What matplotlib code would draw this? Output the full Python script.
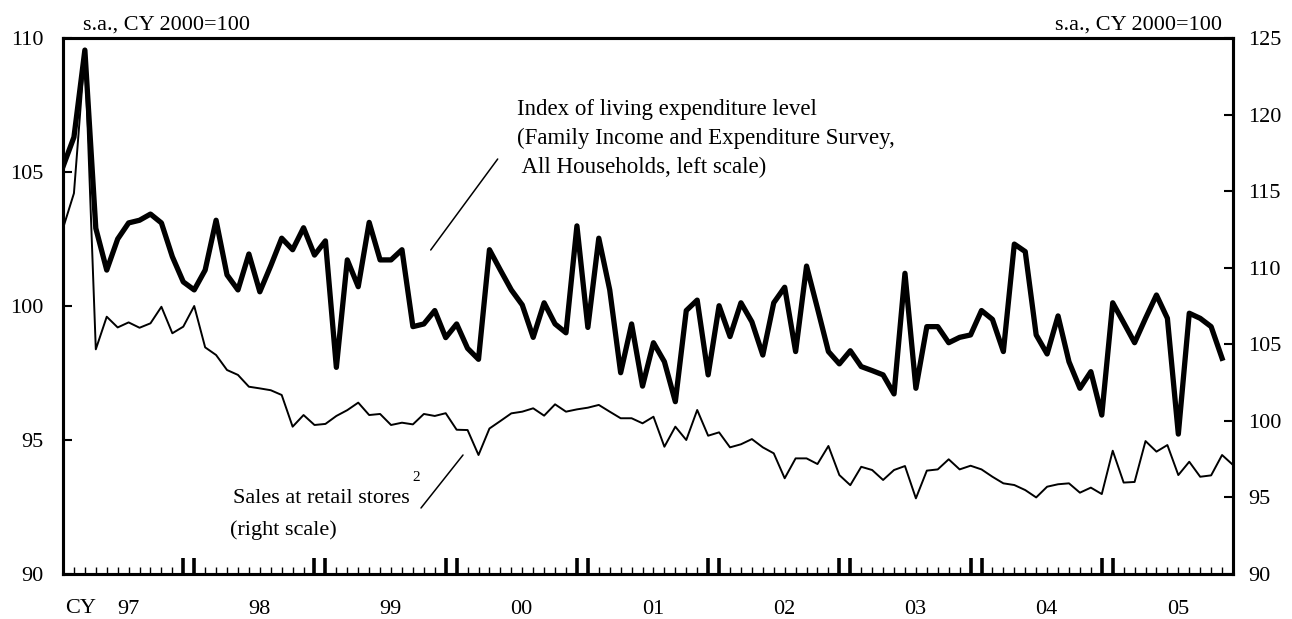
import numpy as np
import matplotlib.pyplot as plt
from matplotlib import transforms

plt.rcParams['font.family'] = ['Liberation Serif', 'DejaVu Serif']

# monthly, Jan 1997 onwards
living = [105.2, 106.3, 109.55, 102.9, 101.34, 102.5, 103.1, 103.2, 103.43, 103.1, 101.84, 100.9,
          100.6, 101.34, 103.2, 101.16, 100.6, 101.94, 100.53, 101.5, 102.53, 102.1, 102.92, 101.9,
          102.43, 97.71, 101.72, 100.72, 103.12, 101.72, 101.72, 102.1, 99.23, 99.33, 99.83, 98.82,
          99.33, 98.42, 98.01, 102.1, 101.34, 100.6, 100.04, 98.83, 100.12, 99.33, 99.0, 102.99,
          99.2, 102.53, 100.6, 97.51, 99.33, 97.01, 98.63, 97.92, 96.43, 99.83, 100.22, 97.43,
          100.01, 98.86, 100.12, 99.41, 98.17, 100.12, 100.7, 98.3, 101.49, 99.91, 98.3, 97.84,
          98.33, 97.74, 97.59, 97.43, 96.72, 101.22, 96.93, 99.23, 99.23, 98.63, 98.83, 98.92,
          99.83, 99.5, 98.3, 102.31, 102.03, 98.92, 98.21, 99.63, 97.92, 96.93, 97.55, 95.93,
          100.12, 99.38, 98.63, 99.54, 100.41, 99.54, 95.22, 99.73, 99.54, 99.23, 98.05]

retail = [112.57, 114.86, 124.1, 104.67, 106.8, 106.1, 106.43, 106.08, 106.37, 107.45, 105.72, 106.15,
          107.5, 104.8, 104.3, 103.32, 103.0, 102.23, 102.12, 102.0, 101.69, 99.62, 100.38, 99.73,
          99.8, 100.32, 100.7, 101.19, 100.38, 100.45, 99.73, 99.88, 99.77, 100.45, 100.32, 100.5,
          99.42, 99.4, 97.77, 99.5, 99.99, 100.49, 100.6, 100.82, 100.34, 101.08, 100.6, 100.75,
          100.86, 101.04, 100.6, 100.17, 100.17, 99.84, 100.27, 98.31, 99.62, 98.75, 100.71, 99.03,
          99.25, 98.27, 98.47, 98.81, 98.27, 97.88, 96.25, 97.55, 97.55, 97.18, 98.36, 96.46,
          95.8, 97.0, 96.79, 96.14, 96.79, 97.05, 94.94, 96.75, 96.83, 97.49, 96.83, 97.07,
          96.83, 96.35, 95.92, 95.81, 95.48, 95.0, 95.7, 95.86, 95.92, 95.31, 95.64, 95.22,
          98.05, 95.97, 96.01, 98.68, 97.99, 98.42, 96.46, 97.33, 96.35, 96.44, 97.77, 97.12]

years = ['97', '98', '99', '00', '01', '02', '03', '04', '05']

W, H = 1292, 619
fs = 16
fig = plt.figure(figsize=(W / 100, H / 100), dpi=100)
ax = fig.add_axes([63 / W, 1 - 574 / H, (1233 - 63) / W, (574 - 38) / H])
ax2 = ax.twinx()

months = np.arange(len(retail))
ax.plot(months[:len(living)], living, color='black', lw=3.8)
ax2.plot(months, retail, color='black', lw=1.4)

ax.set_xlim(0, len(retail) - 1)
ax.set_ylim(90, 110)
ax2.set_ylim(90, 125)
ax.set_yticks([90, 95, 100, 105, 110])
ax2.set_yticks([90, 95, 100, 105, 110, 115, 120, 125])

for a in (ax, ax2):
    for s in a.spines.values():
        s.set_linewidth(2.2)

ax.tick_params(axis='y', direction='in', length=6.5, width=1.5, labelsize=fs, pad=14)
ax2.tick_params(axis='y', direction='in', length=6.5, width=1.5, labelsize=fs, pad=11)

# double ticks at year boundaries, small ticks for other months
bounds = [m for m in months[1:-1] if m % 12 in (11, 0)]
others = [m for m in months[1:-1] if m % 12 not in (11, 0)]
ax.set_xticks(bounds)
ax.set_xticks(others, minor=True)
ax.tick_params(axis='x', which='major', direction='in', length=11.5, width=2.6, labelbottom=False)
ax.tick_params(axis='x', which='minor', direction='in', length=5, width=1.0, labelbottom=False)

trans = transforms.blended_transform_factory(ax.transData, fig.transFigure)
for k, y in enumerate(years):
    ax.text(12 * k + 5.95, 1 - 614 / H, y, transform=trans, ha='center', va='baseline', fontsize=fs)
fig.text(65 / W, 1 - 613 / H, 'CY', ha='left', va='baseline', fontsize=fs)

fig.text(83 / W, 1 - 29.5 / H, 's.a., CY 2000=100', ha='left', va='baseline', fontsize=fs)
fig.text(1222 / W, 1 - 29.5 / H, 's.a., CY 2000=100', ha='right', va='baseline', fontsize=fs)

fs_note = 16.5
fig.text(517 / W, 1 - 115 / H, 'Index of living expenditure level', fontsize=fs_note, va='baseline')
fig.text(517 / W, 1 - 144 / H, '(Family Income and Expenditure Survey,', fontsize=fs_note, va='baseline')
fig.text(517 / W, 1 - 173 / H, ' All Households, left scale)', fontsize=fs_note, va='baseline')

fig.text(410 / W, 1 - 503 / H, 'Sales at retail stores', fontsize=fs, ha='right', va='baseline')
fig.text(412 / W, 1 - 471 / H, '2', fontsize=11, ha='left', va='top')
fig.text(230 / W, 1 - 535 / H, '(right scale)', fontsize=fs, ha='left', va='baseline')

line = dict(arrowstyle='-', lw=1.1, color='black', shrinkA=0, shrinkB=0)
ax.annotate('', xy=(497.7 / W, 1 - 159 / H), xytext=(430.7 / W, 1 - 250 / H),
            xycoords='figure fraction', textcoords='figure fraction', arrowprops=line)
ax.annotate('', xy=(463 / W, 1 - 455 / H), xytext=(421 / W, 1 - 508 / H),
            xycoords='figure fraction', textcoords='figure fraction', arrowprops=line)

fig.savefig('out.png', dpi=100)
